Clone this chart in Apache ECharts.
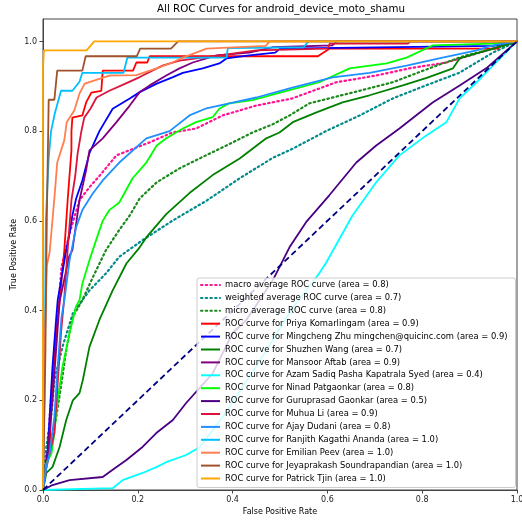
<!DOCTYPE html>
<html>
<head>
<meta charset="utf-8">
<script src="https://cdn.jsdelivr.net/npm/echarts@6/dist/echarts.min.js"></script>
<style>
html,body{margin:0;padding:0;background:#fff;overflow:hidden;}
#chart{width:522px;height:522px;}
</style>
</head>
<body>
<div id="chart"></div>
<script>
const chartTitle = 'All ROC Curves for android_device_moto_shamu';
const xTicks = [0, 0.2, 0.4, 0.6, 0.8, 1.0];
const yTicks = [0, 0.2, 0.4, 0.6, 0.8, 1.0];

const seriesNames = [
  'macro average ROC curve (area = 0.8)',
  'weighted average ROC curve (area = 0.7)',
  'micro average ROC curve (area = 0.8)',
  'ROC curve for Priya Komarlingam (area = 0.9)',
  'ROC curve for Mingcheng Zhu mingchen@quicinc.com (area = 0.9)',
  'ROC curve for Shuzhen Wang (area = 0.7)',
  'ROC curve for Mansoor Aftab (area = 0.9)',
  'ROC curve for Azam Sadiq Pasha Kapatrala Syed (area = 0.4)',
  'ROC curve for Ninad Patgaonkar (area = 0.8)',
  'ROC curve for Guruprasad Gaonkar (area = 0.5)',
  'ROC curve for Muhua Li (area = 0.9)',
  'ROC curve for Ajay Dudani (area = 0.8)',
  'ROC curve for Ranjith Kagathi Ananda (area = 1.0)',
  'ROC curve for Emilian Peev (area = 1.0)',
  'ROC curve for Jeyaprakash Soundrapandian (area = 1.0)',
  'ROC curve for Patrick Tjin (area = 1.0)'
];

// [fpr, tpr] pairs
const macroAvg = [[0,0],[0.003,0.05],[0.01,0.1],[0.02,0.25],[0.031,0.385],[0.039,0.497],[0.056,0.572],[0.077,0.646],[0.098,0.675],[0.119,0.70],[0.155,0.746],[0.225,0.775],[0.273,0.797],[0.323,0.806],[0.379,0.835],[0.45,0.857],[0.526,0.873],[0.619,0.909],[0.703,0.924],[0.773,0.94],[0.851,0.953],[0.915,0.973],[1,1]];
const weightedAvg = [[0,0],[0.003,0.05],[0.007,0.096],[0.018,0.171],[0.024,0.245],[0.041,0.319],[0.063,0.394],[0.098,0.445],[0.133,0.483],[0.161,0.52],[0.21,0.557],[0.274,0.601],[0.345,0.645],[0.415,0.695],[0.484,0.74],[0.527,0.761],[0.597,0.80],[0.668,0.835],[0.738,0.873],[0.808,0.902],[0.878,0.93],[0.949,0.975],[1,1]];
const microAvg = [[0,0],[0.005,0.05],[0.015,0.1],[0.028,0.163],[0.039,0.238],[0.049,0.312],[0.062,0.385],[0.083,0.423],[0.105,0.474],[0.133,0.535],[0.161,0.58],[0.183,0.612],[0.204,0.65],[0.24,0.686],[0.288,0.717],[0.33,0.739],[0.387,0.768],[0.442,0.797],[0.484,0.815],[0.52,0.835],[0.562,0.862],[0.653,0.886],[0.738,0.909],[0.83,0.946],[0.893,0.969],[0.963,0.987],[1,1]];
const priya = [[0,0],[0.003,0.03],[0.007,0.06],[0.014,0.089],[0.018,0.2],[0.028,0.35],[0.035,0.42],[0.045,0.535],[0.052,0.646],[0.06,0.757],[0.06,0.80],[0.062,0.83],[0.083,0.835],[0.091,0.864],[0.102,0.886],[0.123,0.89],[0.126,0.935],[0.19,0.935],[0.197,0.953],[0.22,0.953],[0.225,0.967],[0.58,0.967],[0.605,0.984],[0.96,0.984],[0.965,1],[1,1]];
const mingcheng = [[0,0],[0.005,0.05],[0.01,0.089],[0.02,0.274],[0.028,0.385],[0.031,0.423],[0.049,0.535],[0.056,0.572],[0.062,0.612],[0.07,0.65],[0.083,0.69],[0.098,0.751],[0.119,0.80],[0.147,0.85],[0.183,0.873],[0.204,0.887],[0.24,0.906],[0.273,0.92],[0.295,0.93],[0.337,0.94],[0.372,0.951],[0.387,0.962],[0.435,0.969],[0.49,0.975],[0.5,0.984],[0.95,0.99],[1,1]];
const shuzhen = [[0,0],[0.007,0.038],[0.02,0.051],[0.035,0.096],[0.049,0.156],[0.063,0.2],[0.077,0.216],[0.084,0.245],[0.098,0.319],[0.119,0.379],[0.147,0.445],[0.176,0.505],[0.204,0.541],[0.218,0.563],[0.26,0.615],[0.309,0.662],[0.358,0.702],[0.415,0.739],[0.471,0.784],[0.499,0.797],[0.527,0.82],[0.577,0.842],[0.632,0.864],[0.689,0.88],[0.759,0.902],[0.808,0.918],[0.865,0.94],[0.879,0.962],[0.949,0.984],[1,1]];
const mansoor = [[0,0],[0.007,0.05],[0.02,0.2],[0.035,0.42],[0.055,0.52],[0.062,0.535],[0.077,0.646],[0.091,0.713],[0.098,0.757],[0.126,0.784],[0.155,0.82],[0.183,0.857],[0.204,0.887],[0.225,0.902],[0.26,0.924],[0.288,0.94],[0.316,0.953],[0.366,0.969],[0.435,0.975],[0.484,0.987],[0.61,0.991],[0.62,1],[1,1]];
const azam = [[0,0],[0.147,0.004],[0.168,0.022],[0.21,0.038],[0.239,0.051],[0.26,0.062],[0.302,0.078],[0.33,0.095],[0.377,0.16],[0.41,0.212],[0.461,0.294],[0.495,0.352],[0.531,0.412],[0.58,0.479],[0.597,0.506],[0.653,0.612],[0.703,0.686],[0.752,0.746],[0.808,0.79],[0.851,0.82],[0.879,0.873],[0.915,0.909],[0.949,0.946],[1,1]];
const ninad = [[0,0],[0.007,0.06],[0.018,0.082],[0.024,0.127],[0.031,0.2],[0.041,0.274],[0.056,0.35],[0.07,0.41],[0.077,0.423],[0.083,0.46],[0.098,0.512],[0.112,0.557],[0.126,0.6],[0.14,0.624],[0.161,0.641],[0.189,0.695],[0.218,0.73],[0.24,0.768],[0.26,0.784],[0.295,0.806],[0.323,0.82],[0.358,0.831],[0.372,0.85],[0.393,0.862],[0.442,0.869],[0.514,0.89],[0.583,0.909],[0.647,0.94],[0.725,0.951],[0.767,0.964],[0.822,0.991],[0.95,0.995],[1,1]];
const guruprasad = [[0,0],[0.02,0.011],[0.056,0.022],[0.126,0.029],[0.147,0.045],[0.176,0.067],[0.21,0.096],[0.239,0.127],[0.274,0.156],[0.302,0.194],[0.358,0.26],[0.4,0.35],[0.429,0.379],[0.485,0.468],[0.52,0.541],[0.555,0.597],[0.604,0.657],[0.661,0.73],[0.703,0.768],[0.752,0.806],[0.822,0.864],[0.879,0.902],[0.935,0.94],[1,1]];
const muhua = [[0,0],[0.007,0.05],[0.024,0.127],[0.031,0.238],[0.038,0.35],[0.045,0.43],[0.052,0.535],[0.06,0.646],[0.068,0.7],[0.073,0.75],[0.081,0.80],[0.087,0.83],[0.1,0.85],[0.113,0.875],[0.14,0.89],[0.168,0.903],[0.203,0.92],[0.252,0.946],[0.288,0.957],[0.372,0.969],[0.45,0.98],[0.6,0.984],[0.605,0.995],[0.77,0.995],[0.775,1],[1,1]];
const ajay = [[0,0],[0.007,0.05],[0.014,0.082],[0.024,0.163],[0.031,0.274],[0.039,0.385],[0.045,0.423],[0.056,0.512],[0.07,0.586],[0.083,0.624],[0.105,0.661],[0.126,0.69],[0.161,0.73],[0.218,0.784],[0.267,0.80],[0.309,0.835],[0.345,0.851],[0.393,0.862],[0.45,0.875],[0.526,0.897],[0.611,0.92],[0.689,0.93],[0.767,0.946],[0.843,0.964],[0.915,0.98],[0.949,0.991],[1,1]];
const ranjith = [[0,0],[0.003,0.2],[0.006,0.6],[0.012,0.74],[0.017,0.80],[0.025,0.84],[0.038,0.89],[0.062,0.89],[0.077,0.91],[0.083,0.93],[0.17,0.93],[0.178,0.964],[0.387,0.964],[0.39,0.985],[0.55,0.987],[0.56,1],[1,1]];
const emilian = [[0,0],[0.003,0.3],[0.008,0.5],[0.014,0.53],[0.024,0.65],[0.03,0.73],[0.045,0.78],[0.05,0.82],[0.066,0.846],[0.077,0.884],[0.088,0.906],[0.14,0.924],[0.197,0.925],[0.24,0.94],[0.273,0.953],[0.295,0.964],[0.345,0.984],[0.47,0.99],[0.478,1],[1,1]];
const jeyaprakash = [[0,0],[0.005,0.3],[0.008,0.6],[0.012,0.87],[0.024,0.87],[0.03,0.935],[0.083,0.935],[0.09,0.967],[0.198,0.967],[0.205,0.984],[0.27,0.984],[0.285,1],[1,1]];
const patrick = [[0,0],[0,0.94],[0.002,0.98],[0.092,0.98],[0.108,1],[1,1]];
const chanceLine = [[0,0],[1,1]];

const curveData = [macroAvg, weightedAvg, microAvg, priya, mingcheng, shuzhen, mansoor, azam, ninad, guruprasad, muhua, ajay, ranjith, emilian, jeyaprakash, patrick];
const curveColors = ['#ff1493','#008b8b','#1a8a1a','#ff0000','#0000ff','#008000','#800080','#00ffff','#00ff00','#4b0082','#dc143c','#1e90ff','#00bfff','#ff7f50','#a0522d','#ffa500'];
const curveDotted = [true,true,true,false,false,false,false,false,false,false,false,false,false,false,false,false];

const chart = echarts.init(document.getElementById('chart'), null, {renderer:'canvas'});
const font = 'DejaVu Sans';
const series = curveData.map((d, i) => ({
  name: seriesNames[i],
  type: 'line',
  data: d,
  symbol: 'none',
  showSymbol: false,
  clip: true,
  silent: true,
  lineStyle: {color: curveColors[i], width: curveDotted[i] ? 2.2 : 1.8, type: curveDotted[i] ? [1.5, 3.2] : 'solid', cap: curveDotted[i] ? 'round' : 'butt'},
  itemStyle: {color: curveColors[i]},
  animation: false
}));
series.push({
  name: 'chance',
  type: 'line',
  data: chanceLine,
  symbol: 'none',
  silent: true,
  lineStyle: {color: '#000080', width: 1.8, type: [6, 3.5]},
  animation: false
});

chart.setOption({
  animation: false,
  backgroundColor: '#fff',
  title: {
    text: chartTitle, left: 157, top: 4, padding: 0,
    textStyle: {fontFamily: font, fontSize: 10.3, fontWeight: 'normal', color: '#000'}
  },
  grid: {left: 43, right: 5, top: 19, bottom: 32, show: true, borderColor: '#444', borderWidth: 1, backgroundColor: 'transparent', outerBoundsMode: 'none', containLabel: false},
  legend: {
    data: seriesNames,
    orient: 'vertical',
    left: 197, top: 278,
    itemWidth: 19, itemHeight: 8, itemGap: 4.9,
    padding: [3, 8, 5, 3],
    backgroundColor: 'rgba(255,255,255,0.8)',
    borderColor: '#cccccc', borderWidth: 1, borderRadius: 2,
    itemStyle: {opacity: 0, borderWidth: 0},
    textStyle: {fontFamily: font, fontSize: 8.4, color: '#000', lineHeight: 8},
    selectedMode: false
  },
  xAxis: {
    type: 'value', min: 0, max: 1, interval: 0.2,
    name: 'False Positive Rate', nameLocation: 'middle', nameGap: 18, nameMoveOverlap: false,
    nameTextStyle: {fontFamily: font, fontSize: 8, color: '#000'},
    axisLine: {show: true, lineStyle: {color: '#444'}},
    axisTick: {show: true, inside: false, length: 3.5, lineStyle: {color: '#444'}, customValues: xTicks},
    axisLabel: {fontFamily: font, fontSize: 8, color: '#222', margin: 6, customValues: xTicks, formatter: v => v.toFixed(1)},
    splitLine: {show: false}
  },
  yAxis: {
    type: 'value', min: 0, max: 1.05,
    name: 'True Positive Rate', nameLocation: 'middle', nameGap: 25, nameRotate: 90, nameMoveOverlap: false,
    nameTextStyle: {fontFamily: font, fontSize: 8, color: '#000'},
    axisLine: {show: true, lineStyle: {color: '#444'}},
    axisTick: {show: true, inside: false, length: 3.5, lineStyle: {color: '#444'}, customValues: yTicks},
    axisLabel: {fontFamily: font, fontSize: 8, color: '#222', margin: 6, customValues: yTicks, formatter: v => v.toFixed(1)},
    splitLine: {show: false}
  },
  series: series
});
</script>
</body>
</html>
